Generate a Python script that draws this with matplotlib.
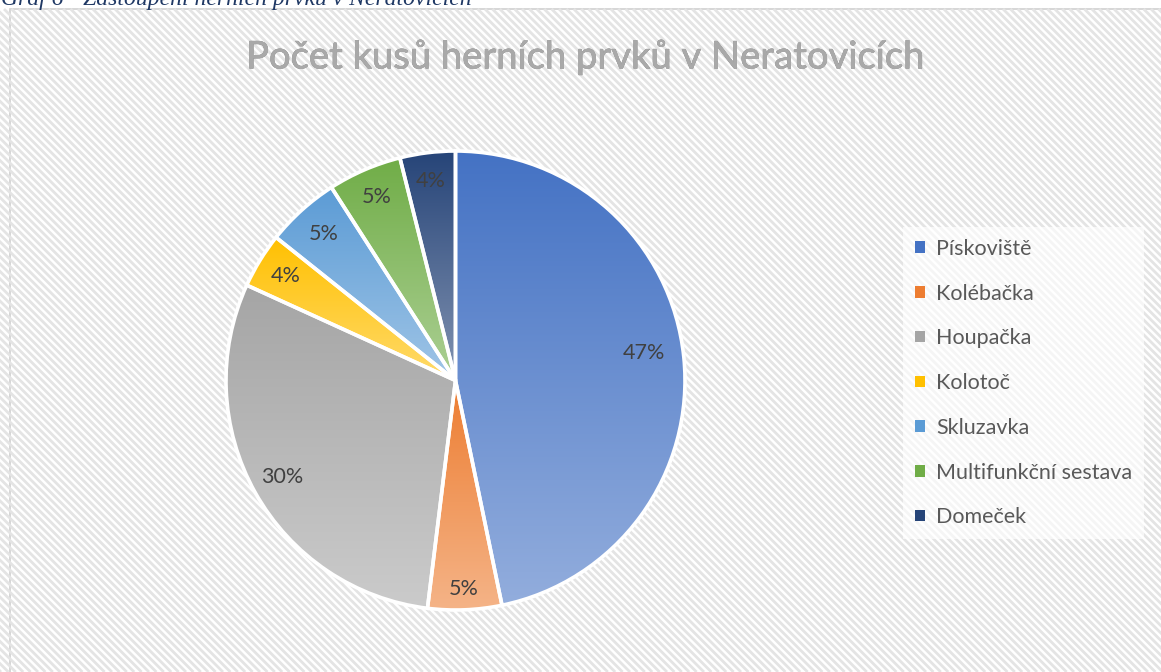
import numpy as np
import matplotlib
matplotlib.use("Agg")
import matplotlib.pyplot as plt
from matplotlib.patches import Rectangle, Patch
from matplotlib.collections import LineCollection
from matplotlib.colors import LinearSegmentedColormap, to_rgb
import matplotlib.patheffects as pe

# ---- data ----
categories = ["Pískoviště", "Kolébačka", "Houpačka", "Kolotoč", "Skluzavka",
              "Multifunkční sestava", "Domeček"]
counts = [36, 4, 23, 3, 4, 4, 3]
title = "Počet kusů herních prvků v Neratovicích"
caption = "Graf 6 - Zastoupení herních prvků v Neratovicích"

# ---- style ----
colors = ["#4472C4", "#ED7D31", "#A5A5A5", "#FFC000", "#5B9BD5", "#70AD47", "#264478"]
label_r = [0.83, 0.91, 0.865, 0.868, 0.858, 0.87, 0.875]
label_dang = [2.6, 0, 0, 0, 0, 0, 0]   # degrees (counter-clockwise shift)
font = "Lato"

W, H = 1161, 672
fig = plt.figure(figsize=(W / 100, H / 100), dpi=100)
fig.patch.set_facecolor("white")

# background axes in pixel coordinates (y downward)
bgax = fig.add_axes([0, 0, 1, 1])
bgax.set_xlim(0, W)
bgax.set_ylim(H, 0)
bgax.axis("off")
bgax.set_zorder(0)
top = 9
bgax.add_patch(Rectangle((10, top), W, H, facecolor="white", edgecolor="#d0d0d0",
                         linewidth=1.2, zorder=0))
step = 7.4
segs = []
for x0 in np.arange(10 - H, W + 10, step):
    segs.append([(x0, top), (x0 + (H - top), H)])
lc = LineCollection(segs, colors="#e4e4e4", linewidths=2.0, zorder=1)
lc.set_clip_path(Rectangle((10.6, top + 0.6), W, H, transform=bgax.transData))
bgax.add_collection(lc)

# caption (cut at the top, as in the source)
fig.text(1 / W, (H - 5) / H, caption, fontsize=17, style="italic", family="Liberation Serif",
         color="#1F3864", ha="left", va="baseline")

# pie axes
cx, cy, R = 455.5, 380.5, 229.5
half = R * 1.1
ax = fig.add_axes([(cx - half) / W, (H - cy - half) / H, 2 * half / W, 2 * half / H])
ax.set_zorder(2)
ax.axis("off")
ax.patch.set_alpha(0)

wedges, _ = ax.pie(counts, startangle=90, counterclock=False, radius=1,
                   wedgeprops=dict(edgecolor="white", linewidth=2.6))

total = sum(counts)
for i, w in enumerate(wedges):
    c = np.array(to_rgb(colors[i]))
    light = c + 0.42 * (1 - c)
    cmap = LinearSegmentedColormap.from_list(f"g{i}", [light, c])
    bb = w.get_path().get_extents()
    grad = np.linspace(0, 1, 256).reshape(-1, 1)
    im = ax.imshow(grad, cmap=cmap, extent=[bb.x0, bb.x1, bb.y0, bb.y1],
                   origin="lower", aspect="auto", zorder=1, interpolation="bicubic")
    im.set_clip_path(w)
    w.set_facecolor("none")
    w.set_zorder(2)
    mid = np.deg2rad((w.theta1 + w.theta2) / 2 + label_dang[i])
    r = label_r[i]
    pct = counts[i] / total * 100
    ax.text(r * np.cos(mid), r * np.sin(mid), f"{pct:.0f}%", ha="center", va="center",
            fontsize=15.5, color="#404040", family=font, zorder=3)
ax.set_xlim(-1.1, 1.1)
ax.set_ylim(-1.1, 1.1)
ax.set_aspect("equal")

# title
fig.text(586 / W, (H - 57) / H, title, ha="center", va="center", fontsize=27.5,
         color="#a9a9a9", family=font, fontweight="normal",
         path_effects=[pe.withStroke(linewidth=0.35, foreground="#7a7a7a"), pe.Normal()])

# legend
handles = [Patch(facecolor=c, edgecolor="none") for c in colors]
leg = fig.legend(handles, categories, loc="upper left",
                 bbox_to_anchor=(903 / W, (H - 227) / H), frameon=True,
                 fancybox=False, framealpha=0.65, edgecolor="white",
                 prop=dict(family=font, size=15.5), labelcolor="#595959",
                 handlelength=0.45, handleheight=0.45, handletextpad=0.55,
                 labelspacing=1.15, borderpad=0.55, borderaxespad=0)
leg.get_frame().set_linewidth(0)
leg.set_zorder(3)

fig.savefig("out.png", dpi=100)
